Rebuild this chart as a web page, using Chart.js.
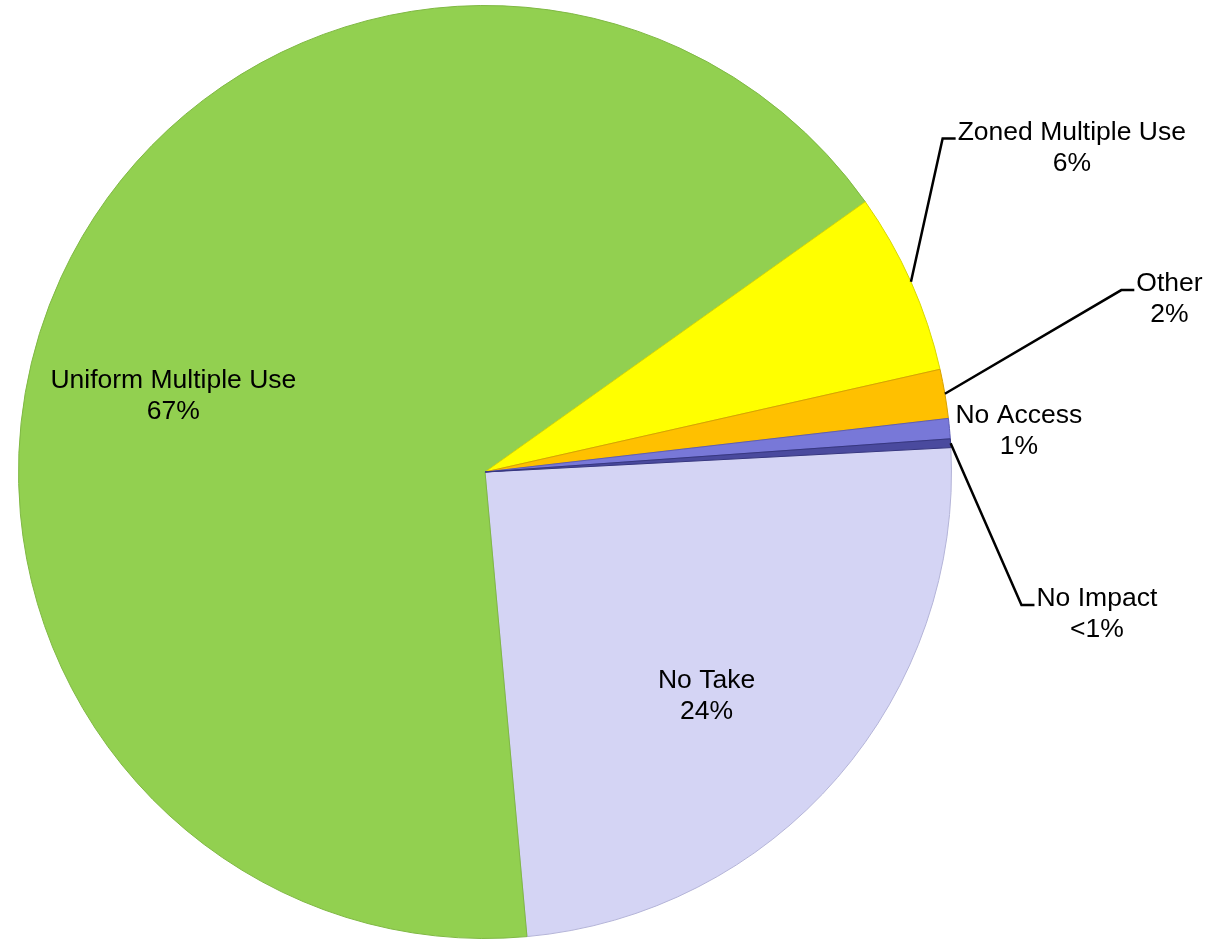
<!DOCTYPE html>
<html>
<head>
<meta charset="utf-8">
<title>Zone shares</title>
<script src="https://cdn.jsdelivr.net/npm/chart.js@4.4.0/dist/chart.umd.min.js"></script>
<style>
  html, body { margin: 0; padding: 0; background: #fff; }
  .chart-box { width: 1213px; height: 943px; }
</style>
</head>
<body>
<div class="chart-box"><canvas id="zoneChart"></canvas></div>
<script>
// Slices go clockwise starting just above 3 o'clock
const zoneNames = ["No Take", "Uniform Multiple Use", "Zoned Multiple Use", "Other", "No Access", "No Impact"];
const zoneShares = [24.4, 66.6, 6.3, 1.7, 0.7, 0.3];
const zonePercentText = ["24%", "67%", "6%", "2%", "1%", "<1%"];
const zoneColors = ["#D4D4F4", "#92D050", "#FFFF00", "#FFC000", "#7878D8", "#4A4A9E"];
const zoneEdgeColors = ["#B4B4D8", "#7FB843", "#D8D800", "#D8A200", "#5C5CB8", "#363680"];

// where each label goes, in units of the pie radius
// inside: block centre relative to pie centre; leader: elbow relative to pie centre; beside: offset from slice edge
const labelPlacement = [
  { type: "inside", dx: 0.475, dy: 0.48 },
  { type: "inside", dx: -0.668, dy: -0.163 },
  { type: "leader", dx: 0.981, dy: -0.715 },
  { type: "leader", dx: 1.364, dy: -0.39 },
  { type: "beside", dx: 6, dy: -13 },
  { type: "leader", dx: 1.15, dy: 0.285 }
];

const FONT = "26.5px 'Liberation Sans', Arial, sans-serif";
const LINE_H = 31;

const sliceLabels = {
  id: "sliceLabels",
  afterDatasetsDraw(chart) {
    const ctx = chart.ctx;
    const arcs = chart.getDatasetMeta(0).data;
    ctx.save();
    ctx.font = FONT;
    ctx.fillStyle = "#000";
    ctx.strokeStyle = "#000";
    ctx.lineWidth = 2.5;
    ctx.textBaseline = "middle";
    ctx.textAlign = "center";

    arcs.forEach((arc, i) => {
      const p = arc.getProps(["x", "y", "startAngle", "endAngle", "outerRadius"], true);
      const mid = (p.startAngle + p.endAngle) / 2;
      const edgeX = p.x + Math.cos(mid) * p.outerRadius;
      const edgeY = p.y + Math.sin(mid) * p.outerRadius;
      const place = labelPlacement[i];
      const line1 = zoneNames[i];
      const line2 = zonePercentText[i];
      const w1 = ctx.measureText(line1).width;
      let cx, y1;

      if (place.type === "inside") {
        cx = p.x + place.dx * p.outerRadius;
        y1 = p.y + place.dy * p.outerRadius - LINE_H / 2;
      } else if (place.type === "leader") {
        const ex = p.x + place.dx * p.outerRadius;
        const ey = p.y + place.dy * p.outerRadius;
        ctx.beginPath();
        ctx.moveTo(edgeX, edgeY);
        ctx.lineTo(ex, ey);
        ctx.lineTo(ex + 13, ey);
        ctx.stroke();
        cx = ex + 15 + w1 / 2;
        y1 = ey - 6;
      } else {
        cx = edgeX + place.dx + w1 / 2;
        y1 = edgeY + place.dy;
      }
      ctx.fillText(line1, cx, y1);
      ctx.fillText(line2, cx, y1 + LINE_H);
    });
    ctx.restore();
  }
};

new Chart(document.getElementById("zoneChart"), {
  type: "pie",
  data: {
    labels: zoneNames,
    datasets: [{
      data: zoneShares,
      backgroundColor: zoneColors,
      borderColor: zoneEdgeColors,
      borderWidth: 1
    }]
  },
  options: {
    responsive: true,
    maintainAspectRatio: false,
    animation: false,
    rotation: 87,
    layout: { padding: { left: 18, right: 261, top: 5, bottom: 4 } },
    plugins: {
      legend: { display: false },
      tooltip: { enabled: false }
    }
  },
  plugins: [sliceLabels]
});
</script>
</body>
</html>
